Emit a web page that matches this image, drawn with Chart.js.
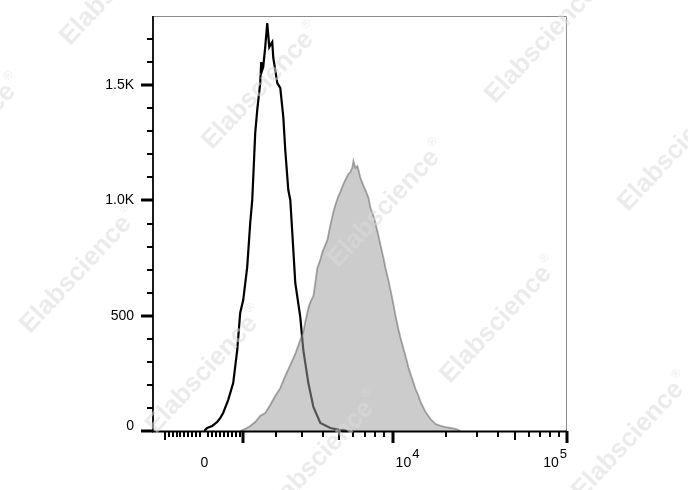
<!DOCTYPE html>
<html>
<head>
<meta charset="utf-8">
<script src="https://cdn.jsdelivr.net/npm/chart.js@4.4.1/dist/chart.umd.min.js"></script>
<style>
  html, body { margin: 0; padding: 0; background: #ffffff; }
  #wrap { width: 688px; height: 490px; position: relative; }
  canvas { display: block; }
</style>
</head>
<body>
<div id="wrap"><canvas id="c" width="688" height="490"></canvas></div>
<script>
// ---------------- data ----------------
// isotype control histogram (black outline)
const blackX = [0, 20, 70, 195, 320, 396, 472, 600, 731, 837, 917, 999, 1109, 1194, 1252, 1338, 1397, 1486, 1517, 1548, 1578, 1640, 1704, 1769, 1867, 1901, 2036, 2140, 2248, 2320, 2434, 2510, 2589, 2708, 2916, 3048, 3276, 3515, 3870, 4433, 5065, 5778];
const blackCounts = [0, 4, 13, 22, 39, 56, 78, 134, 208, 351, 512, 568, 711, 902, 1002, 1292, 1392, 1509, 1600, 1566, 1579, 1665, 1769, 1665, 1687, 1618, 1509, 1488, 1362, 1219, 1045, 1002, 859, 642, 494, 351, 208, 104, 35, 13, 4, 0];
// stained sample histogram (grey filled)
const greyX = [917, 1053, 1194, 1338, 1486, 1640, 1801, 1967, 2140, 2320, 2510, 2708, 2916, 3048, 3136, 3276, 3369, 3515, 3612, 3715, 3870, 3979, 4143, 4259, 4433, 4617, 4739, 4935, 5065, 5273, 5411, 5631, 5778, 5936, 6014, 6172, 6339, 6589, 6855, 7032, 7315, 7504, 7805, 8006, 8328, 8543, 8886, 9115, 9483, 9728, 10122, 10385, 10803, 11081, 11527, 11825, 12300, 12617, 13125, 13463, 14008, 14371, 15340, 16375, 17482, 18670, 19935, 21289, 22734, 24282];
const greyCounts = [0, 9, 22, 39, 65, 78, 113, 152, 186, 239, 286, 334, 395, 429, 473, 533, 559, 585, 642, 707, 742, 776, 807, 828, 893, 950, 980, 1019, 1037, 1071, 1089, 1115, 1123, 1145, 1171, 1141, 1149, 1097, 1063, 1045, 1011, 967, 932, 902, 846, 807, 750, 707, 651, 612, 546, 499, 438, 403, 356, 325, 273, 247, 208, 182, 152, 126, 82, 52, 30, 22, 17, 13, 9, 0];

// axis ticks
const yMajorTicks = [0, 500, 1000, 1500];
const yMajorLabels = ['0', '500', '1.0K', '1.5K'];
const yMinorTicks = [100, 200, 300, 400, 600, 700, 800, 900, 1100, 1200, 1300, 1400, 1600, 1700];
const xMajorTicks = [1000, 10000, 100000];
const xMidTicks = [-1000, 5000, 50000];
const xMinorTicks = [-900, -800, -700, -600, -500, -400, -300, -200, -100, 100, 200, 300, 400, 500, 600, 700, 800, 900,
  2000, 3000, 4000, 6000, 7000, 8000, 9000, 20000, 30000, 40000, 60000, 70000, 80000, 90000];
const xLabelValues = [0, 10000, 100000];
const xLabelBase = ['0', '10', '10'];
const xLabelExp = ['', '4', '5'];
const xLabelAlign = ['center', 'left', 'right'];
const X_MIN = -1350, X_MAX = 100000, Y_MIN = 0, Y_MAX = 1800;

// ---------------- biexponential (logicle-like) scale ----------------
const BIEX_A = 736, BIEX_P = 1.5;
function biexF(d) { return Math.pow(10, d) - BIEX_P * BIEX_P * Math.pow(10, -d / BIEX_P) + BIEX_P * BIEX_P - 1; }
function biexValue(d) { return d >= 0 ? BIEX_A * biexF(d) : -BIEX_A * biexF(-d); }
function biexCoord(v) {
  const s = v < 0 ? -1 : 1, y = Math.abs(v) / BIEX_A;
  let lo = 0, hi = 6;
  for (let i = 0; i < 60; i++) { const m = (lo + hi) / 2; if (biexF(m) < y) lo = m; else hi = m; }
  return s * (lo + hi) / 2;
}
class BiexScale extends Chart.Scale {
  determineDataLimits() {
    this.min = this.options.min; this.max = this.options.max;
    this._cMin = biexCoord(this.min); this._cMax = biexCoord(this.max);
  }
  buildTicks() { return xLabelValues.map(v => ({ value: v })); }
  getLabelForValue(v) { return String(v); }
  configure() { super.configure(); this._cMin = biexCoord(this.min); this._cMax = biexCoord(this.max); }
  getPixelForValue(v) { return this.getPixelForDecimal((biexCoord(v) - this._cMin) / (this._cMax - this._cMin)); }
  getValueForPixel(p) { return biexValue(this._cMin + this.getDecimalForPixel(p) * (this._cMax - this._cMin)); }
}
BiexScale.id = 'biex';
BiexScale.defaults = {};
Chart.register(BiexScale);

const FONT = '"Liberation Sans", Arial, Helvetica, sans-serif';

const axesPlugin = {
  id: 'flowAxes',
  afterDatasetsDraw(chart) {
    const { ctx, chartArea: a, scales: { x, y } } = chart;
    ctx.save();
    // frame
    ctx.strokeStyle = '#8a8a8a'; ctx.lineWidth = 1;
    ctx.beginPath();
    ctx.moveTo(a.left, a.top + 0.5); ctx.lineTo(a.right - 0.5, a.top + 0.5); ctx.lineTo(a.right - 0.5, a.bottom);
    ctx.stroke();
    ctx.fillStyle = '#1a1a1a';
    ctx.fillRect(a.left - 1, a.top, 2, a.bottom - a.top + 1);
    ctx.fillStyle = '#000';
    ctx.fillRect(a.left - 1, a.bottom - 0.5, a.right - a.left + 1, 2);
    // y ticks
    yMinorTicks.forEach(v => { const p = y.getPixelForValue(v); ctx.fillRect(a.left - 6, Math.round(p) - 1, 6, 2); });
    yMajorTicks.forEach(v => { const p = y.getPixelForValue(v); ctx.fillRect(a.left - 12, Math.round(p) - 1.5, 12, 3); });
    // x ticks
    xMinorTicks.forEach(v => { const p = x.getPixelForValue(v); ctx.fillRect(Math.round(p) - 1, a.bottom, 2, 6); });
    xMidTicks.forEach(v => { const p = x.getPixelForValue(v); ctx.fillRect(Math.round(p) - 1, a.bottom, 2, 9); });
    xMajorTicks.forEach(v => { const p = x.getPixelForValue(v); ctx.fillRect(Math.round(p) - 1.5, a.bottom, 3, 12); });
    // y labels
    ctx.fillStyle = '#000';
    ctx.font = '14px ' + FONT;
    ctx.textAlign = 'right'; ctx.textBaseline = 'middle';
    yMajorTicks.forEach((v, i) => {
      const p = Math.min(y.getPixelForValue(v), a.bottom - 5);
      ctx.fillText(yMajorLabels[i], a.left - 19, p);
    });
    // x labels
    ctx.textBaseline = 'alphabetic'; ctx.textAlign = 'left';
    xLabelValues.forEach((v, i) => {
      const p = x.getPixelForValue(v);
      ctx.font = '14px ' + FONT;
      const wb = ctx.measureText(xLabelBase[i]).width;
      ctx.font = '13px ' + FONT;
      const we = xLabelExp[i] ? ctx.measureText(xLabelExp[i]).width + 1 : 0;
      const w = wb + we;
      let x0 = p - w / 2;
      if (xLabelAlign[i] === 'left') x0 = p + 3;
      if (xLabelAlign[i] === 'right') x0 = p - w;
      ctx.font = '14px ' + FONT;
      ctx.fillText(xLabelBase[i], x0, a.bottom + 36);
      if (xLabelExp[i]) { ctx.font = '13px ' + FONT; ctx.fillText(xLabelExp[i], x0 + wb + 1, a.bottom + 27); }
    });
    ctx.restore();
  },
  afterDraw(chart) {
    const ctx = chart.ctx;
    const marks = [[120, -18], [262, 86], [545, 40], [-36, 138], [388, 204], [678, 148], [80, 270], [500, 320], [206, 370], [322, 455], [632, 436]];
    ctx.save();
    ctx.fillStyle = 'rgba(218,218,218,0.55)';
    marks.forEach(([cx, cy]) => {
      ctx.save();
      ctx.translate(cx, cy);
      ctx.rotate(-0.82);
      ctx.font = 'bold 26px ' + FONT;
      const w = ctx.measureText('Elabscience').width;
      ctx.textAlign = 'left'; ctx.textBaseline = 'middle';
      ctx.fillText('Elabscience', -w / 2 - 6, 0);
      ctx.font = '12px ' + FONT;
      ctx.fillText('\u00AE', w / 2 - 4, -10);
      ctx.restore();
    });
    ctx.restore();
  }
};

const toPts = (xs, ys) => xs.map((v, i) => ({ x: v, y: ys[i] }));

new Chart(document.getElementById('c'), {
  type: 'line',
  data: {
    datasets: [
      {
        label: 'Stained',
        data: toPts(greyX, greyCounts),
        borderColor: 'rgba(105,105,105,0.58)',
        backgroundColor: 'rgba(159,159,159,0.53)',
        borderWidth: 1.8,
        fill: 'origin',
        pointRadius: 0,
        tension: 0,
        order: 0
      },
      {
        label: 'Isotype',
        data: toPts(blackX, blackCounts),
        borderColor: '#000000',
        borderWidth: 2.2,
        fill: false,
        pointRadius: 0,
        tension: 0,
        order: 1
      }
    ]
  },
  options: {
    responsive: false,
    animation: false,
    events: [],
    devicePixelRatio: 1,
    layout: { padding: { top: 16, right: 121, left: 0, bottom: 0 } },
    scales: {
      x: {
        type: 'biex', position: 'bottom', min: X_MIN, max: X_MAX,
        grid: { display: false }, border: { display: false }, ticks: { display: false },
        afterFit: s => { s.height = 59; }
      },
      y: {
        type: 'linear', position: 'left', min: Y_MIN, max: Y_MAX,
        grid: { display: false }, border: { display: false }, ticks: { display: false },
        afterFit: s => { s.width = 153; }
      }
    },
    plugins: { legend: { display: false }, tooltip: { enabled: false } }
  },
  plugins: [axesPlugin]
});
</script>
</body>
</html>
